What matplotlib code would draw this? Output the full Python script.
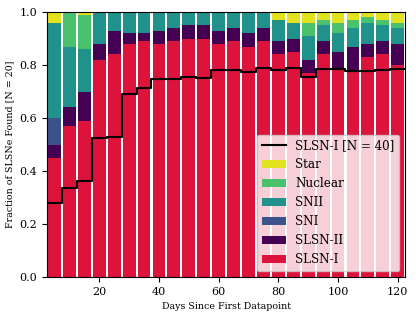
import matplotlib
matplotlib.use("Agg")
import matplotlib.pyplot as plt
import numpy as np

plt.rcParams['font.family'] = 'DejaVu Serif'

days = [5, 10, 15, 20, 25, 30, 35, 40, 45, 50, 55, 60,
        65, 70, 75, 80, 85, 90, 95, 100, 105, 110, 115, 120]

slsn1 = [.45, .57, .59, .82, .84, .88, .89, .88, .89, .90, .90, .88,
         .89, .87, .89, .84, .85, .77, .84, .79, .78, .83, .84, .80]
slsn2 = [.05, .07, .11, .06, .09, .04, .03, .05, .05, .05, .05, .05,
         .05, .05, .05, .05, .05, .05, .05, .06, .09, .05, .05, .08]
sni = [.10, 0, 0, 0, 0, 0, 0, 0, 0, 0, 0, 0,
       0, 0, 0, 0, 0, 0, 0, 0, 0, 0, 0, 0]
snii = [.36, .23, .16, .12, .07, .08, .08, .07, .06, .05, .05, .07,
        .06, .08, .06, .08, .06, .09, .06, .07, .07, .08, .06, .06]
nuclear = [0, .13, .13, 0, 0, 0, 0, 0, 0, 0, 0, 0,
           0, 0, 0, 0, 0, .05, .02, .04, .03, .02, .02, .02]
star = [.04, 0, .01, 0, 0, 0, 0, 0, 0, 0, 0, 0,
        0, 0, 0, .03, .04, .04, .03, .04, .03, .02, .03, .04]

# fraction for the larger sample, drawn as a step line
slsn1_n40 = [.278, .337, .362, .526, .53, .69, .714, .746, .746, .756, .75, .781,
             .781, .775, .79, .781, .79, .755, .785, .785, .776, .776, .78, .785]

classes = ['SLSN-I', 'SLSN-II', 'SNI', 'SNII', 'Nuclear', 'Star']
fractions = [slsn1, slsn2, sni, snii, nuclear, star]
colors = ['#dc143c', '#440154', '#3b528b', '#21918c', '#4ac16d', '#e3e21e']

fig = plt.figure(figsize=(4.16, 3.18), dpi=100)
ax = fig.add_axes([0.113, 0.129, 0.861, 0.833])

x = np.array(days)
bottom = np.zeros(len(days))
bars = []
for name, frac, c in zip(classes, fractions, colors):
    b = ax.bar(x, frac, width=4.3, bottom=bottom, color=c, label=name)
    bars.append(b)
    bottom += np.array(frac)

edges = np.append(x - 2.5, x[-1] + 2.5)
line, = ax.step(edges, np.append(slsn1_n40, slsn1_n40[-1]), where='post',
                color='black', lw=1.5, label='SLSN-I [N = 40]')

ax.set_xlim(2.5, 122.5)
ax.set_ylim(0, 1)
ax.set_yticks([0, 0.2, 0.4, 0.6, 0.8, 1.0])
ax.tick_params(labelsize=8)
ax.set_xlabel('Days Since First Datapoint', fontsize=6.8)
ax.set_ylabel('Fraction of SLSNe Found [N = 20]', fontsize=6.8)

ax.legend([line] + bars[::-1], ['SLSN-I [N = 40]'] + classes[::-1],
          loc='lower right', fontsize=8.6)

fig.savefig('out.png', dpi=100)
